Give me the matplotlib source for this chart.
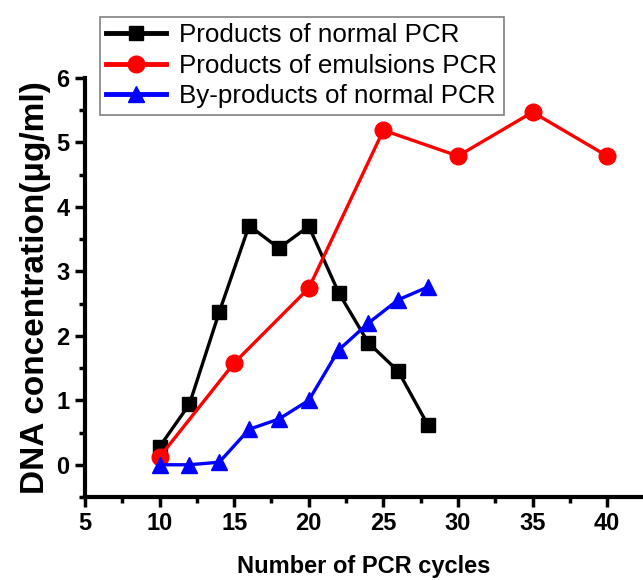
import matplotlib
matplotlib.use("Agg")
import matplotlib.pyplot as plt
from matplotlib.ticker import MultipleLocator

plt.rcParams['font.family'] = ['Liberation Sans', 'DejaVu Sans']

cycles_normal = [10, 12, 14, 16, 18, 20, 22, 24, 26, 28]
normal_products = [0.28, 0.94, 2.37, 3.71, 3.36, 3.70, 2.67, 1.89, 1.45, 0.61]

cycles_emulsion = [10, 15, 20, 25, 30, 35, 40]
emulsion_products = [0.12, 1.58, 2.74, 5.19, 4.79, 5.47, 4.79]

cycles_byproduct = [10, 12, 14, 16, 18, 20, 22, 24, 26, 28]
byproducts = [0.0, 0.0, 0.04, 0.55, 0.71, 1.0, 1.78, 2.2, 2.56, 2.76]

labels = ["Products of normal PCR", "Products of emulsions PCR", "By-products of normal PCR"]
x_ticks = [5, 10, 15, 20, 25, 30, 35, 40]
y_ticks = [0, 1, 2, 3, 4, 5, 6]

fig = plt.figure(figsize=(6.43, 5.8), dpi=100)
ax = fig.add_axes([85/643, 1-497/580, 1-85/643, (497-78)/580])

l1, = ax.plot(cycles_normal, normal_products, '-s', color='black', lw=2.4, ms=10.5, label=labels[0])
l2, = ax.plot(cycles_emulsion, emulsion_products, '-o', color='red', lw=2.4, ms=12, label=labels[1])
l3, = ax.plot(cycles_byproduct, byproducts, '-^', color='blue', lw=2.4, ms=12, label=labels[2])

ax.set_xlim(5, 42.4)
ax.set_ylim(-0.5, 6)
ax.set_xticks(x_ticks)
ax.set_yticks(y_ticks)
ax.xaxis.set_minor_locator(MultipleLocator(2.5))
ax.yaxis.set_minor_locator(MultipleLocator(0.5))
for s in ['top', 'right']:
    ax.spines[s].set_visible(False)
for s in ['left', 'bottom']:
    ax.spines[s].set_linewidth(3)
ax.tick_params(which='major', direction='out', length=7, width=2.5, labelsize=17, pad=4)
ax.tick_params(which='minor', direction='out', length=4, width=2.5)
for lab in ax.get_xticklabels() + ax.get_yticklabels():
    lab.set_fontweight('bold')

ax.set_xlabel("Number of PCR cycles", fontsize=17, fontweight='bold', labelpad=14)
ax.set_ylabel("DNA concentration(μg/ml)", fontsize=24, fontweight='bold', labelpad=4)

leg = ax.legend(handles=[l1, l2, l3], loc='upper left',
                bbox_to_anchor=(100/643, 1-17/580), bbox_transform=fig.transFigure,
                fontsize=18.7, frameon=True, fancybox=False, framealpha=1,
                edgecolor='grey', handlelength=2.3, borderpad=0.25,
                labelspacing=0.25, handletextpad=0.5, borderaxespad=0)
leg.get_frame().set_linewidth(1.2)
for h in leg.legend_handles:
    h.set_linewidth(3.5)

fig.savefig("out.png", dpi=100)
